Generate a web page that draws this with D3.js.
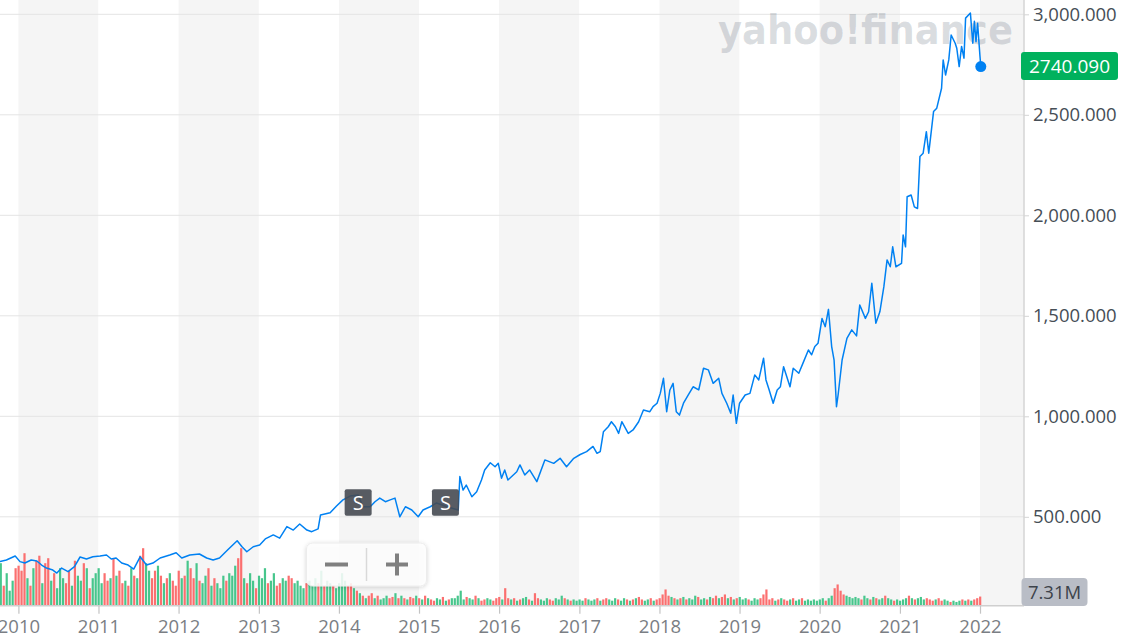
<!DOCTYPE html>
<html>
<head>
<meta charset="utf-8">
<script src="https://cdn.jsdelivr.net/npm/d3@7"></script>
<style>
  body { margin: 0; background: #fff; }
  svg { display: block; font-family: "Open Sans", "Noto Sans", sans-serif; }
</style>
</head>
<body>
<svg width="1128" height="639"></svg>
<script>
// closes: [decimal year, price]
var closes = [
  [2009.77, 277], [2009.85, 285], [2009.96, 305], [2010.02, 277], [2010.08, 270], [2010.16, 285],
  [2010.23, 280], [2010.29, 260], [2010.35, 245], [2010.43, 235], [2010.48, 220], [2010.54, 245],
  [2010.62, 227], [2010.70, 252], [2010.77, 300], [2010.85, 290], [2010.93, 301],
  [2011.02, 305], [2011.10, 310], [2011.16, 290], [2011.22, 295], [2011.29, 270], [2011.37, 260],
  [2011.44, 240], [2011.52, 301], [2011.60, 260], [2011.68, 270], [2011.77, 295], [2011.89, 310], [2011.97, 321],
  [2012.04, 295], [2012.14, 310], [2012.26, 315], [2012.35, 295], [2012.43, 285], [2012.51, 295],
  [2012.61, 335], [2012.73, 381], [2012.79, 351], [2012.85, 326], [2012.93, 351],
  [2013.01, 360], [2013.08, 390], [2013.18, 410], [2013.26, 394], [2013.35, 451], [2013.43, 434],
  [2013.51, 464], [2013.60, 434], [2013.66, 426], [2013.74, 440], [2013.77, 509], [2013.89, 520], [2013.97, 554],
  [2014.05, 584], [2014.14, 603], [2014.24, 608], [2014.30, 550], [2014.39, 550], [2014.45, 575],
  [2014.51, 593], [2014.58, 575], [2014.64, 584], [2014.70, 593], [2014.76, 500], [2014.83, 550],
  [2014.91, 534], [2014.99, 500],
  [2015.05, 534], [2015.14, 550], [2015.22, 569], [2015.35, 550], [2015.49, 534], [2015.51, 700],
  [2015.55, 633], [2015.59, 658], [2015.66, 600], [2015.72, 625], [2015.78, 683], [2015.82, 733],
  [2015.89, 769], [2015.95, 749], [2015.99, 766],
  [2016.03, 692], [2016.07, 733], [2016.11, 683], [2016.22, 724], [2016.26, 758], [2016.32, 708],
  [2016.38, 733], [2016.47, 675], [2016.57, 783], [2016.68, 766], [2016.76, 791], [2016.84, 749], [2016.93, 791],
  [2017.01, 810], [2017.09, 824], [2017.17, 850], [2017.22, 816], [2017.26, 824], [2017.30, 923],
  [2017.36, 948], [2017.40, 973], [2017.45, 948], [2017.49, 915], [2017.53, 973], [2017.61, 915],
  [2017.67, 932], [2017.74, 973], [2017.80, 1031], [2017.88, 1023], [2017.92, 1048], [2017.97, 1065],
  [2018.01, 1114], [2018.05, 1189], [2018.09, 1023], [2018.13, 1131], [2018.17, 1164], [2018.21, 1023],
  [2018.25, 1006], [2018.30, 1065], [2018.36, 1106], [2018.42, 1147], [2018.49, 1131], [2018.55, 1239],
  [2018.61, 1231], [2018.67, 1164], [2018.74, 1189], [2018.78, 1114], [2018.84, 1065], [2018.89, 1015],
  [2018.92, 1106], [2018.96, 965],
  [2019.00, 1065], [2019.07, 1106], [2019.13, 1114], [2019.19, 1206], [2019.24, 1181], [2019.30, 1289],
  [2019.33, 1181], [2019.37, 1131], [2019.42, 1065], [2019.47, 1131], [2019.51, 1147], [2019.55, 1247],
  [2019.59, 1197], [2019.63, 1147], [2019.67, 1239], [2019.74, 1214], [2019.80, 1272], [2019.86, 1330],
  [2019.90, 1306], [2019.94, 1347], [2019.98, 1363],
  [2020.03, 1487], [2020.07, 1446], [2020.11, 1532], [2020.15, 1347], [2020.18, 1280], [2020.21, 1048],
  [2020.23, 1106], [2020.28, 1280], [2020.34, 1388], [2020.40, 1430], [2020.46, 1400], [2020.50, 1554],
  [2020.57, 1487], [2020.61, 1520], [2020.65, 1662], [2020.70, 1463], [2020.75, 1520], [2020.80, 1645],
  [2020.84, 1778], [2020.88, 1744], [2020.91, 1843], [2020.95, 1744],
  [2021.02, 1761], [2021.04, 1902], [2021.07, 1843], [2021.09, 2092], [2021.14, 2101], [2021.18, 2042],
  [2021.22, 2034], [2021.25, 2292], [2021.29, 2309], [2021.33, 2416], [2021.36, 2309], [2021.42, 2516],
  [2021.46, 2533], [2021.52, 2632], [2021.54, 2773], [2021.57, 2698], [2021.61, 2773], [2021.64, 2897],
  [2021.69, 2856], [2021.71, 2831], [2021.74, 2740], [2021.77, 2840], [2021.80, 2782], [2021.82, 2981],
  [2021.88, 3006], [2021.91, 2856], [2021.93, 2965], [2021.95, 2864], [2021.97, 2955], [2022.00, 2790],
  [2022.01, 2740.09]
];

// volume in millions, one bar every 1/27 year from volumeStart
var volumeStart = 2009.78;
var volumes = [
  34, 16, 26, 12, 20, 30,
  32, 28, 42, 22, 16, 30, 36, 40, 18, 34, 38, 20, 26, 14, 30, 22, 18, 28, 16, 36, 24, 20, 34, 30, 14, 22, 26,
  30, 18, 26, 20, 22, 38, 24, 28, 18, 20, 16, 30, 24, 22, 40, 46, 34, 28, 22, 28, 32, 24, 18, 22, 26, 20, 16,
  28, 22, 24, 36, 30, 22, 34, 20, 18, 24, 30, 16, 22, 18, 14, 24, 20, 26, 24, 32, 38, 46, 22, 18, 26, 20, 14,
  24, 22, 30, 18, 20, 26, 16, 18, 22, 20, 24, 22, 18, 20, 16, 14, 18, 20, 16, 22, 18, 28, 16, 20, 18, 16, 14,
  18, 26, 20, 16, 18, 14, 12, 10, 8, 6, 8, 10, 6, 8, 5, 6, 8, 6, 7, 10, 6, 8, 6, 5, 7, 6, 8,
  6, 5, 8, 6, 5, 4, 6, 5, 7, 4, 5, 6, 6, 8, 12, 5, 7, 6, 5, 8, 6, 4, 5, 6, 5, 4, 6,
  7, 5, 14, 6, 5, 6, 4, 5, 6, 7, 5, 4, 10, 6, 5, 4, 6, 5, 4, 6, 5, 8, 6, 5, 4, 5, 4,
  5, 4, 6, 5, 4, 5, 6, 4, 5, 6, 5, 4, 6, 5, 4, 6, 5, 4, 5, 6, 7, 5, 4, 5, 6, 4, 5,
  6, 9, 13, 8, 7, 6, 5, 6, 7, 5, 6, 5, 8, 7, 5, 6, 5, 7, 6, 8, 6, 7, 9, 6, 7, 5, 6,
  7, 5, 6, 5, 4, 6, 5, 6, 9, 13, 5, 6, 4, 5, 6, 5, 4, 5, 6, 4, 5, 6, 4, 5, 4, 5, 4,
  5, 6, 4, 6, 8, 14, 17, 12, 9, 8, 7, 6, 7, 6, 5, 8, 6, 5, 7, 6, 5, 6, 8, 6, 5, 4, 5,
  4, 5, 6, 8, 6, 5, 6, 7, 5, 6, 5, 4, 5, 6, 4, 5, 4, 3, 4, 3, 4, 5, 4, 5, 4, 5, 6,
  7.31
];
// g = closed up, r = closed down
var volumeDirs =
  "grgggr" +
  "rrrgrgrrgrrgrgggrrgrggrgrgg" +
  "ggrrgrgrrgrgrgrrggrrgrgrgrr" +
  "rgrgrrgrggrgrgggrgggrrgrggr" +
  "gggrggrrggrrggggrgggrgrggrg" +
  "gggrrgrgrgrrgrgggrrgrgrgrrg" +
  "rgrgrrggrgrgggggrggrgrrggrr" +
  "rgrrgrgrggrgrrgggrrgggrgrgg" +
  "ggrgggrgrrgggrggrgrgrrggrgr" +
  "rrrrgrgrgrgggrggrgrrgrrgrgr" +
  "gggrgggrrrrrgrgrrgrggrggggg" +
  "ggrggrrrrgggggrggrgrggrggrg" +
  "gggrgrgggrrrgrrggrgggrgrgrr" +
  "r";

var years = d3.range(2009, 2023);
var priceTicks = [500, 1000, 1500, 2000, 2500, 3000];
var splitDates = [2014.24, 2015.33];
var lastPrice = 2740.09;
var lastVolumeLabel = "7.31M";

function toDate(dy) {
  var yr = Math.floor(dy);
  var a = new Date(yr, 0, 1), b = new Date(yr + 1, 0, 1);
  return new Date(+a + (dy - yr) * (b - a));
}

var svg = d3.select("svg");
var plotRight = 1024, plotBottom = 605.7;

var x = d3.scaleTime()
    .domain([new Date(2010, 0, 1), new Date(2022, 0, 1)])
    .range([18.4, 980]);
var y = d3.scaleLinear().domain([500, 3000]).range([516.8, 14.3]);
var yVol = d3.scaleLinear().domain([0, 80]).range([plotBottom, plotBottom - 100]);

var defs = svg.append("defs");
defs.append("filter").attr("id", "shadow")
    .attr("x", "-20%").attr("y", "-30%").attr("width", "140%").attr("height", "160%")
  .append("feDropShadow")
    .attr("dx", 0).attr("dy", 1).attr("stdDeviation", 2)
    .attr("flood-color", "#000").attr("flood-opacity", 0.18);

// alternating year bands
svg.append("g").selectAll("rect")
  .data(years)
  .enter().append("rect")
    .attr("x", function(d) { return Math.max(0, x(new Date(d, 0, 1))); })
    .attr("y", 0)
    .attr("width", function(d) {
      var a = Math.max(0, x(new Date(d, 0, 1)));
      var b = Math.min(plotRight, x(new Date(d + 1, 0, 1)));
      return Math.max(0, b - a);
    })
    .attr("height", plotBottom)
    .attr("fill", function(d) { return d % 2 === 0 ? "#f5f5f5" : "#ffffff"; });

// horizontal grid
svg.append("g").selectAll("line")
  .data(priceTicks)
  .enter().append("line")
    .attr("x1", 0).attr("x2", plotRight)
    .attr("y1", function(d) { return y(d); })
    .attr("y2", function(d) { return y(d); })
    .attr("stroke", "#e4e4e4")
    .attr("stroke-width", 1);

// watermark
svg.append("text")
    .attr("x", 718).attr("y", 44)
    .attr("font-family", "DejaVu Sans, sans-serif")
    .attr("font-weight", "bold")
    .attr("font-size", 40)
    .attr("fill", "#3c4a5c")
    .attr("fill-opacity", 0.19)
    .attr("textLength", 295)
    .attr("lengthAdjust", "spacingAndGlyphs")
    .text("yahoo!finance");

// volume bars
svg.append("g").selectAll("rect")
  .data(volumes)
  .enter().append("rect")
    .attr("x", function(d, i) { return x(toDate(volumeStart + i / 27)) - 1.1; })
    .attr("y", function(d) { return yVol(d); })
    .attr("width", 2.2)
    .attr("height", function(d) { return yVol(0) - yVol(d); })
    .attr("fill", function(d, i) { return volumeDirs.charAt(i) === "r" ? "#fb6f6f" : "#47c68c"; });

// axes
var xAxis = svg.append("g")
    .attr("transform", "translate(0," + plotBottom + ")")
    .call(d3.axisBottom(x)
      .tickValues(years.filter(function(d) { return d >= 2010; }).map(function(d) { return new Date(d, 0, 1); }))
      .tickFormat(d3.timeFormat("%Y"))
      .tickSize(8)
      .tickSizeOuter(0)
      .tickPadding(6));
xAxis.select(".domain").attr("d", "M0,0H" + plotRight).attr("stroke", "#cfcfcf").attr("stroke-width", 1.5);
xAxis.selectAll(".tick line").attr("stroke", "#c4c4c4").attr("stroke-width", 1.2);
xAxis.selectAll(".tick text")
    .attr("font-family", "Open Sans, sans-serif")
    .attr("font-size", 18.5)
    .attr("fill", "#7a7e84");

var yAxis = svg.append("g")
    .attr("transform", "translate(" + plotRight + ",0)")
    .call(d3.axisRight(y)
      .tickValues(priceTicks)
      .tickFormat(d3.format(",.3f"))
      .tickSize(5)
      .tickSizeOuter(0)
      .tickPadding(4));
yAxis.select(".domain").attr("d", "M0,0V" + plotBottom).attr("stroke", "#d4d4d4").attr("stroke-width", 1.5);
yAxis.selectAll(".tick line").attr("stroke", "#d4d4d4");
yAxis.selectAll(".tick text")
    .attr("font-family", "Open Sans, sans-serif")
    .attr("font-size", 18.5)
    .attr("fill", "#464e56");

// price line
var line = d3.line()
    .x(function(d) { return x(toDate(d[0])); })
    .y(function(d) { return y(d[1]); });

svg.append("path")
    .datum(closes)
    .attr("fill", "none")
    .attr("stroke", "#0081f2")
    .attr("stroke-width", 1.5)
    .attr("stroke-linejoin", "round")
    .attr("d", line);

var last = closes[closes.length - 1];
svg.append("circle")
    .attr("cx", x(toDate(last[0])))
    .attr("cy", y(last[1]))
    .attr("r", 5.5)
    .attr("fill", "#0081f2");

// split markers
var sm = svg.append("g").selectAll("g")
  .data(splitDates)
  .enter().append("g")
    .attr("transform", function(d) { return "translate(" + (x(toDate(d)) - 13.5) + ",489.3)"; });
sm.append("rect")
    .attr("width", 27).attr("height", 26.5).attr("rx", 2)
    .attr("fill", "#464a52").attr("fill-opacity", 0.9);
sm.append("text")
    .attr("x", 13.5).attr("y", 20.5)
    .attr("text-anchor", "middle")
    .attr("font-size", 20)
    .attr("fill", "#fff")
    .text("S");

// zoom control
var zc = svg.append("g").attr("filter", "url(#shadow)");
zc.append("rect")
    .attr("x", 306.5).attr("y", 543).attr("width", 120).attr("height", 43).attr("rx", 6)
    .attr("fill", "#fff").attr("fill-opacity", 0.85)
    .attr("stroke", "#ececec");
var zi = svg.append("g").attr("stroke", "#808080").attr("stroke-width", 4);
zi.append("line").attr("x1", 325).attr("x2", 348).attr("y1", 564.5).attr("y2", 564.5);
zi.append("line").attr("x1", 386).attr("x2", 408).attr("y1", 564.5).attr("y2", 564.5);
zi.append("line").attr("x1", 397).attr("x2", 397).attr("y1", 553.5).attr("y2", 575.5);
svg.append("line")
    .attr("x1", 366.5).attr("x2", 366.5).attr("y1", 548).attr("y2", 581)
    .attr("stroke", "#d9d9d9").attr("stroke-width", 1.5);

// last price tag
svg.append("rect")
    .attr("x", 1021).attr("y", y(lastPrice) - 14.5)
    .attr("width", 97).attr("height", 28).attr("rx", 3)
    .attr("fill", "#00b15d");
svg.append("text")
    .attr("x", 1069.5).attr("y", y(lastPrice) + 6.5)
    .attr("text-anchor", "middle")
    .attr("font-size", 19)
    .attr("fill", "#fff")
    .text(d3.format(".3f")(lastPrice));

// last volume tag
svg.append("rect")
    .attr("x", 1021.5).attr("y", 578)
    .attr("width", 66).attr("height", 28).attr("rx", 4)
    .attr("fill", "#b9bdc6");
svg.append("text")
    .attr("x", 1054.5).attr("y", 598.5)
    .attr("text-anchor", "middle")
    .attr("font-size", 18.5)
    .attr("fill", "#3d434b")
    .text(lastVolumeLabel);
</script>
</body>
</html>
